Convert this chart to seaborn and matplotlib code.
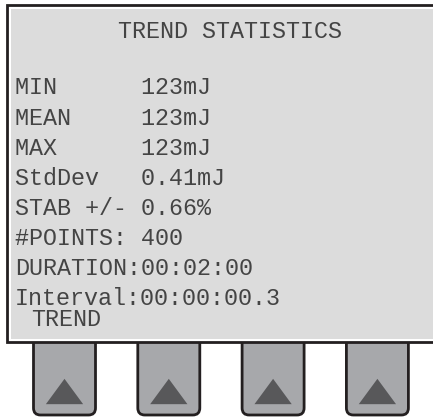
import matplotlib
matplotlib.use("Agg")
import matplotlib.pyplot as plt
from matplotlib.patches import Rectangle, FancyBboxPatch
import seaborn as sns
import pandas as pd

# Contenido de la pantalla
titulo = "TREND STATISTICS"
etiquetas = ["MIN", "MEAN", "MAX", "StdDev", "STAB +/-", "#POINTS:", "DURATION:", "Interval:"]
valores = ["123mJ", "123mJ", "123mJ", "0.41mJ", "0.66%", "400", "00:02:00", "00:00:00.3"]
tecla_texto = "TREND"
n_teclas = 4

sns.set_style("white")
plt.rcParams['font.family'] = ['Liberation Mono', 'DejaVu Sans Mono']

W, H = 433, 419
fig = plt.figure(figsize=(W / 100, H / 100), dpi=100)
ax = fig.add_axes([0, 0, 1, 1])
ax.set_xlim(0, W)
ax.set_ylim(H, 0)
ax.axis("off")

# Teclas (debajo de la pantalla)
x_teclas = [32 + i * 104.3 for i in range(n_teclas)]
ancho_tecla = 65
for x0 in x_teclas:
    ax.add_patch(FancyBboxPatch((x0 + 1.5, 320), ancho_tecla - 3, 95,
                                boxstyle="round,pad=0,rounding_size=7",
                                facecolor="#a7a8ab", edgecolor="#231f20",
                                linewidth=2.0, zorder=1))

# Triángulos de las teclas
tri = [(-1, -0.68), (1, -0.68), (0, 0.68)]
df_tri = pd.DataFrame({"x": [x0 + ancho_tecla / 2 for x0 in x_teclas],
                       "y": [391.5] * n_teclas})
sns.scatterplot(data=df_tri, x="x", y="y", marker=tri, s=720,
                color="#58585a", edgecolor="none", linewidth=0, ax=ax, zorder=2)

# Pantalla (el borde derecho queda fuera de la imagen)
ax.add_patch(Rectangle((7, 5), 600, 337, facecolor="white",
                       edgecolor="#231f20", linewidth=2.0, zorder=3,
                       clip_on=True))
ax.add_patch(Rectangle((11, 9), 600, 330, facecolor="#dcdcdc",
                       edgecolor="none", zorder=4))

color_txt = "#444444"
fs = 16.8
ax.text(230, 31, titulo, ha="center", va="center", fontsize=fs,
        color=color_txt, zorder=5)
for i, (lab, val) in enumerate(zip(etiquetas, valores)):
    ax.text(15, 88 + 30 * i, lab.ljust(9) + val, ha="left", va="center",
            fontsize=fs, color=color_txt, zorder=5)
ax.text(31, 319, tecla_texto, ha="left", va="center", fontsize=fs,
        color=color_txt, zorder=5)

fig.savefig("out.png", dpi=100)
